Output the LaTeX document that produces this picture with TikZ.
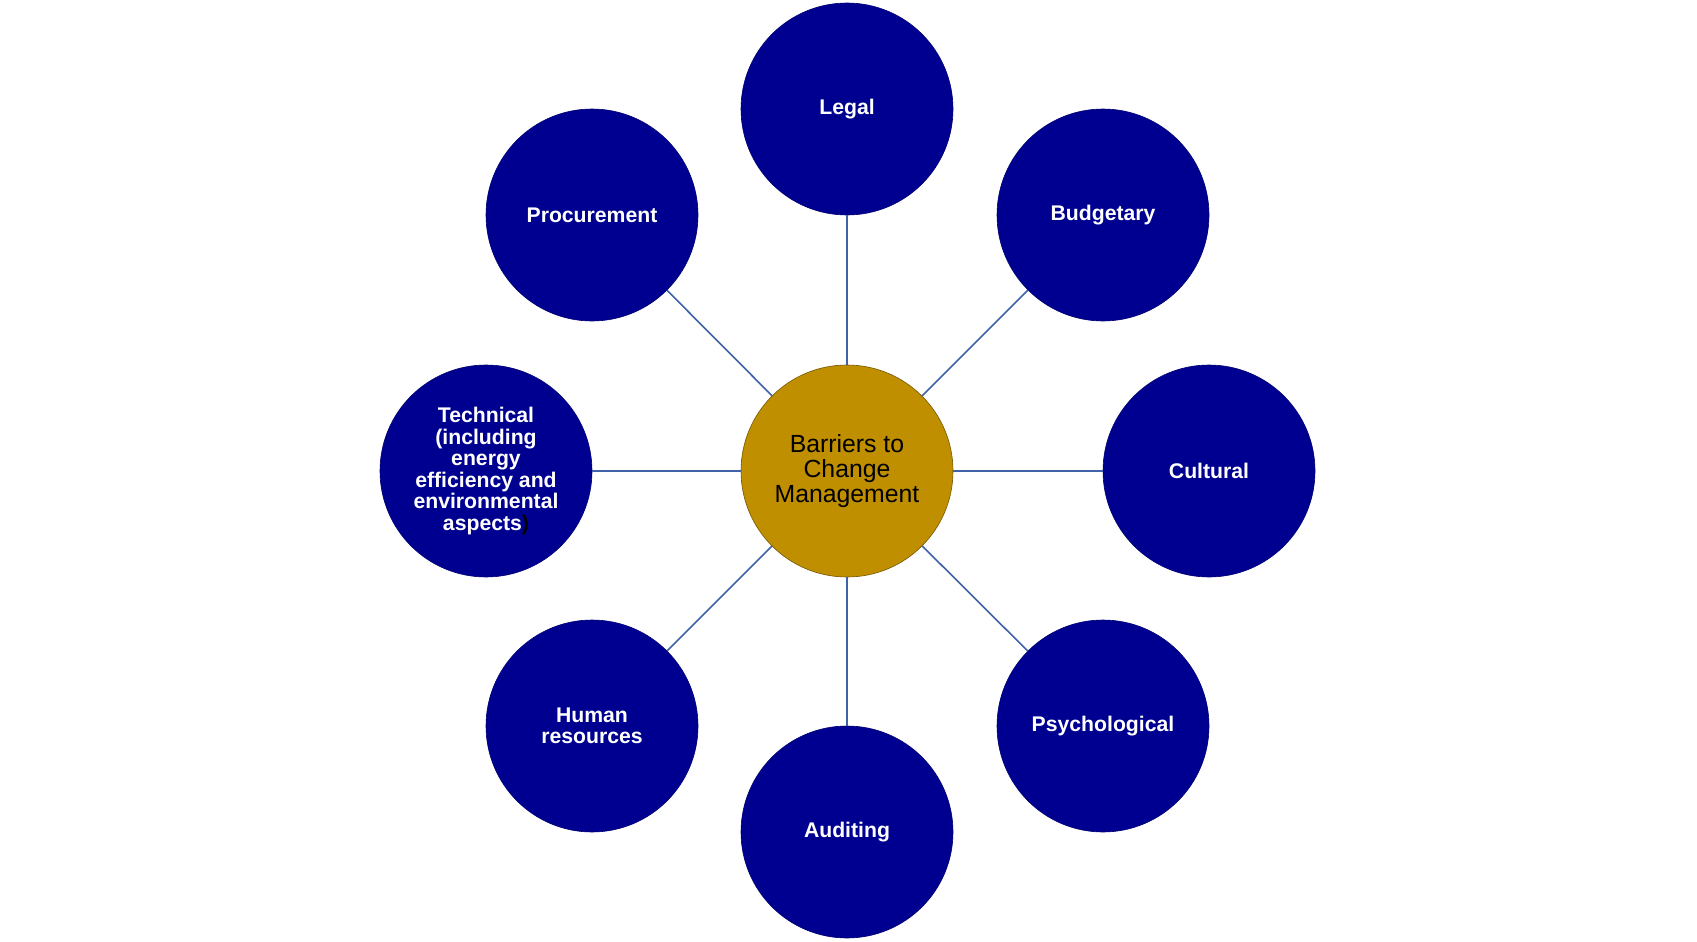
\documentclass[tikz,border=0pt]{standalone}
\usepackage{fontspec}
\setmainfont{Liberation Sans}
\definecolor{navyc}{HTML}{000090}
\definecolor{goldc}{HTML}{BF8F00}
\definecolor{linec}{HTML}{3F62A8}
\begin{document}
\begin{tikzpicture}[x=1pt,y=-1pt,
  outer/.style={circle,fill=navyc,draw=navyc!80!black,line width=0.6pt,minimum size=212pt,inner sep=0pt,
    text=white,font=\fontsize{21.2}{21.6}\selectfont\bfseries,align=center},
  hub/.style={circle,fill=goldc,draw=goldc!60!black,line width=0.6pt,minimum size=212pt,inner sep=0pt,
    text=black,font=\fontsize{24.8}{25.4}\selectfont,align=center},
  conn/.style={draw=linec,line width=1.6pt}]
\useasboundingbox (0,0) rectangle (1697,942);
\node[hub] (c) at (847,471) {Barriers to\\Change\\Management};
\node[outer] (legal) at (847,109) {Legal};
\node[outer] (proc) at (592,215) {Procurement};
\node[outer] (budg) at (1103,215) {Budgetary};
\node[outer] (tech) at (486,471) {Technical\\(including\\energy\\efficiency and\\environmental\\aspects\textcolor{black}{)}};
\node[outer] (cult) at (1209,471) {Cultural};
\node[outer] (hum) at (592,726) {Human\\resources};
\node[outer] (psy) at (1103,726) {Psychological};
\node[outer] (aud) at (847,832) {Auditing};
\foreach \n in {legal,proc,budg,tech,cult,hum,psy,aud}
  \draw[conn] (c) -- (\n);
\end{tikzpicture}
\end{document}
